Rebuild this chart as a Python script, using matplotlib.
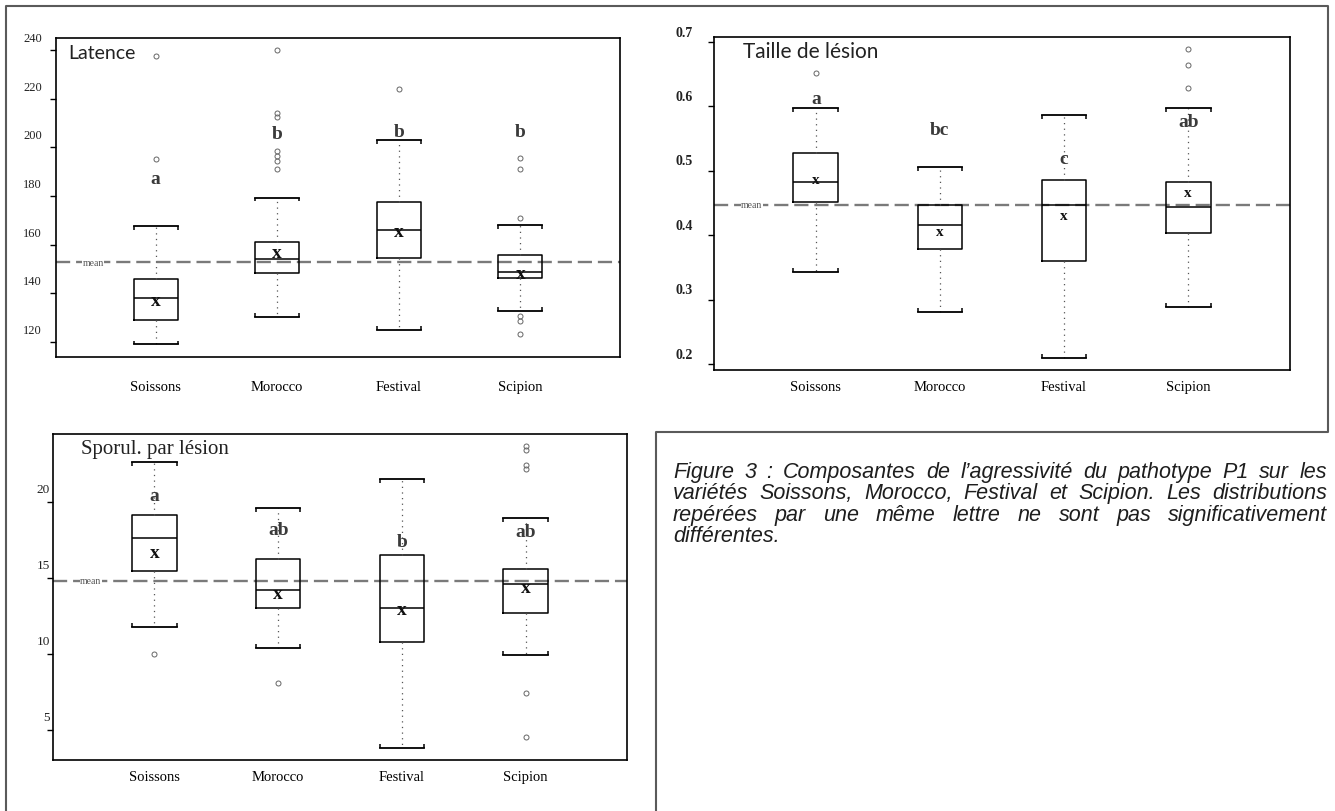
import matplotlib
matplotlib.use('Agg')
import matplotlib.pyplot as plt
from matplotlib.lines import Line2D
from matplotlib.transforms import ScaledTranslation

W, H = 1335, 812

varieties = ['Soissons', 'Morocco', 'Festival', 'Scipion']
positions = [1, 2, 3, 4]

# Latence
lat_whislo = [119.0, 130.2, 124.8, 132.6]
lat_q1 = [129.0, 148.2, 154.3, 146.1]
lat_med = [138.0, 154.0, 165.8, 148.6]
lat_q3 = [145.7, 160.9, 177.3, 155.6]
lat_whishi = [167.5, 179.3, 203.1, 167.9]
lat_mean = [137.2, 156.8, 165.4, 148.2]
lat_fliers = [[237.5, 195.0],
              [240.0, 214.0, 212.5, 198.6, 196.6, 194.5, 191.2],
              [224.0],
              [171.1, 195.7, 191.2, 130.6, 128.5, 123.2]]
lat_letters = ['a', 'b', 'b', 'b']
lat_letter_y = [187.0, 205.6, 206.4, 206.4]
lat_grand_mean = 152.7
lat_ticks = [120, 140, 160, 180, 200, 220, 240]

# Taille de lesion
tai_whislo = [0.3435, 0.280, 0.210, 0.289]
tai_q1 = [0.452, 0.379, 0.360, 0.403]
tai_med = [0.482, 0.416, 0.447, 0.444]
tai_q3 = [0.527, 0.447, 0.485, 0.482]
tai_whishi = [0.597, 0.506, 0.587, 0.598]
tai_mean = [0.486, 0.405, 0.431, 0.466]
tai_fliers = [[0.652], [], [], [0.689, 0.665, 0.629]]
tai_letters = ['a', 'bc', 'c', 'ab']
tai_letter_y = [0.612, 0.564, 0.519, 0.577]
tai_grand_mean = 0.447
tai_ticks = [0.2, 0.3, 0.4, 0.5, 0.6, 0.7]

# Sporulation par lesion
spo_whislo = [11.79, 10.37, 3.85, 9.96]
spo_q1 = [15.47, 13.04, 10.79, 12.71]
spo_med = [17.64, 14.22, 13.04, 14.62]
spo_q3 = [19.15, 16.26, 16.52, 15.60]
spo_whishi = [22.6, 19.58, 21.49, 18.95]
spo_mean = [16.67, 13.94, 12.95, 14.35]
spo_fliers = [[9.98], [8.10], [], [23.68, 23.41, 22.41, 22.14, 7.46, 4.51]]
spo_letters = ['a', 'ab', 'b', 'ab']
spo_letter_y = [20.4, 18.2, 17.4, 18.03]
spo_grand_mean = 14.81
spo_ticks = [5, 10, 15, 20]

caption_lines = [
    "Figure 3 : Composantes de l\u2019agressivit\u00e9 du pathotype P1 sur les",
    "vari\u00e9t\u00e9s Soissons, Morocco, Festival et Scipion. Les distributions",
    "rep\u00e9r\u00e9es par une m\u00eame lettre ne sont pas significativement",
    "diff\u00e9rentes.",
]

SERIF = 'Liberation Serif'


def px_axes(fig, l, t, r, b):
    return fig.add_axes([l / W, 1 - b / H, (r - l) / W, (b - t) / H])


def draw_panel(fig, ax, whislo, q1, med, q3, whishi, mean, fliers, letters,
               letter_y, grand_mean, ticks, ylim, title, title_font,
               tick_dx, tick_dy, tick_size, tick_weight, x_pad, mean_size):
    stats = []
    for i in range(len(varieties)):
        stats.append(dict(whislo=whislo[i], q1=q1[i], med=med[i], q3=q3[i],
                          whishi=whishi[i], fliers=fliers[i], label=varieties[i]))
    wd = 0.36
    ax.bxp(stats, positions=positions, widths=wd, capwidths=wd,
           boxprops=dict(color='black', lw=1.1),
           medianprops=dict(color='black', lw=1.1),
           whiskerprops=dict(color='#555555', lw=0.9, linestyle=(0, (1, 3.5))),
           capprops=dict(color='black', lw=1.3),
           flierprops=dict(marker='o', mfc='none', mec='#666666', ms=3.6, mew=0.7))
    ax.set_xlim(0.18, 4.82)
    ax.set_ylim(*ylim)
    d = 0.012 * (ylim[1] - ylim[0])
    for p, hi, lo in zip(positions, whishi, whislo):
        ax.vlines([p - wd / 2, p + wd / 2], hi - d, hi, color='black', lw=1.1)
        ax.vlines([p - wd / 2, p + wd / 2], lo, lo + d, color='black', lw=1.1)
    for p, m in zip(positions, mean):
        ax.text(p, m, 'x', ha='center', va='center', family=SERIF,
                weight='bold', size=mean_size, color='#111111')
    for p, lt, ly in zip(positions, letters, letter_y):
        ax.text(p, ly, lt, ha='center', va='center', family=SERIF,
                weight='bold', size=14, color='#3a3a3a')
    ax.axhline(grand_mean, color='#7a7a7a', lw=1.7, dashes=(6, 2.5), zorder=1)
    ax.text(0.047, grand_mean, 'mean', transform=ax.get_yaxis_transform(),
            ha='left', va='center', family=SERIF, size=7, color='#555555',
            bbox=dict(fc='white', ec='none', pad=0.3))
    ax.text(title_font[2], title_font[3], title, transform=ax.transAxes,
            ha='left', va='center', family=title_font[0], size=title_font[1],
            color='#222222')

    ax.set_xticks(positions)
    ax.set_xticklabels(varieties, family=SERIF, size=10.5)
    ax.tick_params(axis='x', length=0, pad=x_pad)
    ax.set_yticks(ticks)
    ax.set_yticklabels([])
    ax.tick_params(axis='y', length=4.3, width=1.0, direction='out')
    trans = ax.get_yaxis_transform() + ScaledTranslation(tick_dx / 100, tick_dy / 100, fig.dpi_scale_trans)
    for t in ticks:
        ax.text(0, t, ('%g' % t), transform=trans, ha='right', va='center',
                family=SERIF, size=tick_size, weight=tick_weight, color='#222222')
    for s in ax.spines.values():
        s.set_linewidth(1.2)


fig = plt.figure(figsize=(W / 100, H / 100), dpi=100)

ax1 = px_axes(fig, 56, 39, 620, 358)
draw_panel(fig, ax1, lat_whislo, lat_q1, lat_med, lat_q3, lat_whishi, lat_mean,
           lat_fliers, lat_letters, lat_letter_y, lat_grand_mean, lat_ticks,
           (113.8, 244.9), 'Latence', ('Lato', 14, 0.021, 0.955),
           -14, 12, 9, 'normal', 16.5, 14)

ax2 = px_axes(fig, 714, 38, 1290, 371)
draw_panel(fig, ax2, tai_whislo, tai_q1, tai_med, tai_q3, tai_whishi, tai_mean,
           tai_fliers, tai_letters, tai_letter_y, tai_grand_mean, tai_ticks,
           (0.1907, 0.7078), 'Taille de l\u00e9sion', ('Lato', 15, 0.05, 0.958),
           -21, 10, 10, 'bold', 7, 11)

ax3 = px_axes(fig, 53, 435, 627, 761)
draw_panel(fig, ax3, spo_whislo, spo_q1, spo_med, spo_q3, spo_whishi, spo_mean,
           spo_fliers, spo_letters, spo_letter_y, spo_grand_mean, spo_ticks,
           (3.03, 24.45), 'Sporul. par l\u00e9sion', (SERIF, 15, 0.049, 0.954),
           -3, 13, 9.5, 'normal', 7, 14)

# outer frame
fx = [6, 6, 1328, 1328, 656, 656]
fy = [812, 7, 7, 433, 433, 812]
fig.add_artist(Line2D([x / W for x in fx], [1 - y / H for y in fy],
                      color='#5a5a5a', lw=1.5, transform=fig.transFigure))

# justified caption, size fitted so the tightest line nearly fills the width
fig.canvas.draw()
r = fig.canvas.get_renderer()
x0, x1 = 673, 1327
baselines = [478, 499.5, 521, 542.5]
cap_kw = dict(family='Liberation Sans', style='italic',
              color='#1e1e1e', va='baseline')
probe = fig.text(0, 0, caption_lines[1], size=13, **cap_kw)
cap_size = min(15.5, 13 * (x1 - x0 - 6) / probe.get_window_extent(r).width)
probe.remove()
cap_kw['size'] = cap_size
for i, line in enumerate(caption_lines):
    y = 1 - baselines[i] / H
    if i == len(caption_lines) - 1:
        fig.text(x0 / W, y, line, **cap_kw)
        continue
    words = line.split(' ')
    texts = [fig.text(0, y, w, **cap_kw) for w in words]
    widths = [t.get_window_extent(r).width for t in texts]
    gap = (x1 - x0 - sum(widths)) / (len(words) - 1)
    x = x0
    for t, w in zip(texts, widths):
        t.set_x(x / W)
        x += w + gap

fig.savefig('out.png', dpi=100)
